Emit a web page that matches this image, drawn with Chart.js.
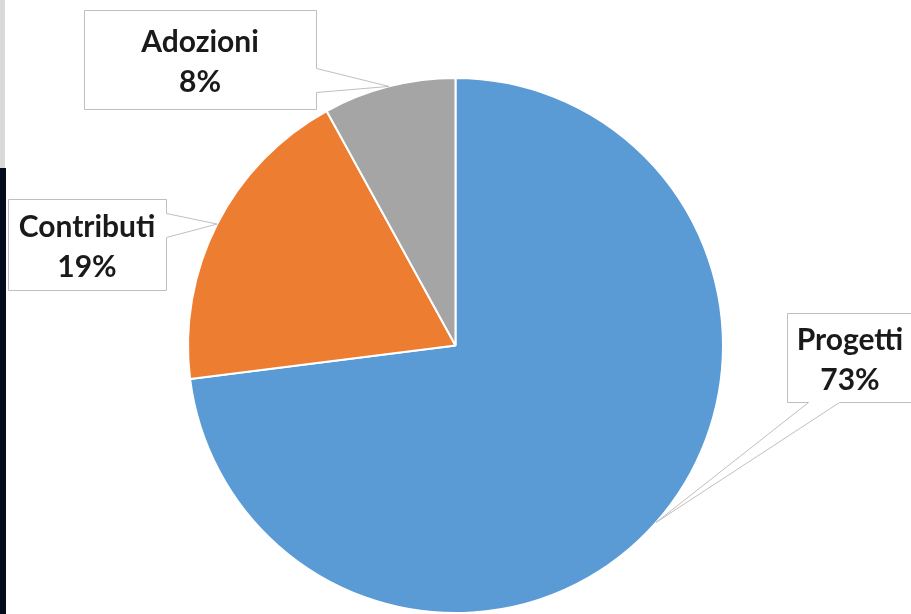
<!DOCTYPE html>
<html>
<head>
<meta charset="utf-8">
<script src="https://cdn.jsdelivr.net/npm/chart.js@4/dist/chart.umd.min.js"></script>
<style>
  html, body { margin: 0; padding: 0; background: #fff; }
  #wrap { position: relative; width: 911px; height: 614px; }
</style>
</head>
<body>
<div id="wrap"><canvas id="graficoTorta"></canvas></div>
<script>
// dati del grafico
const categorie = ['Progetti', 'Contributi', 'Adozioni'];
const percentuali = [73, 19, 8];
const colori = ['#5b9bd5', '#ed7d31', '#a5a5a5'];

// posizione dei riquadri (callout stile Excel), in pixel
const riquadri = [
    { x: 787, y: 313, w: 126, h: 89, lato: 'bottom', a: 808, b: 839 },
    { x: 8, y: 199, w: 158, h: 91, lato: 'right', a: 213, b: 237 },
    { x: 84, y: 10, w: 232, h: 99, lato: 'right', a: 68, b: 92 }
];

const bordiSlide = {
    id: 'bordiSlide',
    beforeDraw(chart) {
        const ctx = chart.ctx;
        ctx.save();
        ctx.fillStyle = '#d9d9d9';
        ctx.fillRect(0, 0, 5, 168);
        ctx.fillStyle = '#040b1c';
        ctx.fillRect(0, 168, 6, chart.height - 168);
        ctx.restore();
    }
};

const callout = {
    id: 'callout',
    afterDatasetsDraw(chart) {
        const ctx = chart.ctx;
        const meta = chart.getDatasetMeta(0);
        meta.data.forEach(function (arc, i) {
            const r = riquadri[i];
            const mid = (arc.startAngle + arc.endAngle) / 2;
            const tx = arc.x + Math.cos(mid) * arc.outerRadius;
            const ty = arc.y + Math.sin(mid) * arc.outerRadius;
            const x0 = r.x + 0.5, y0 = r.y + 0.5, x1 = r.x + r.w + 0.5, y1 = r.y + r.h + 0.5;

            ctx.save();
            ctx.beginPath();
            ctx.moveTo(x0, y0);
            ctx.lineTo(x1, y0);
            if (r.lato === 'right') {
                ctx.lineTo(x1, r.a + 0.5);
                ctx.lineTo(tx, ty);
                ctx.lineTo(x1, r.b + 0.5);
            }
            ctx.lineTo(x1, y1);
            if (r.lato === 'bottom') {
                ctx.lineTo(r.b + 0.5, y1);
                ctx.lineTo(tx, ty);
                ctx.lineTo(r.a + 0.5, y1);
            }
            ctx.lineTo(x0, y1);
            ctx.closePath();
            ctx.fillStyle = '#ffffff';
            ctx.fill();
            ctx.strokeStyle = '#bfbfbf';
            ctx.lineWidth = 1;
            ctx.stroke();

            const cx = r.x + r.w / 2;
            const cy = r.y + r.h / 2;
            ctx.fillStyle = '#1a1a1a';
            ctx.font = 'bold 30px Lato';
            ctx.textAlign = 'center';
            ctx.textBaseline = 'middle';
            ctx.fillText(categorie[i], cx, cy - 17);
            ctx.fillText(percentuali[i] + '%', cx, cy + 23);
            ctx.restore();
        });
    }
};

new Chart(document.getElementById('graficoTorta'), {
    type: 'pie',
    data: {
        labels: categorie,
        datasets: [{
            data: percentuali,
            backgroundColor: colori,
            borderColor: '#ffffff',
            borderWidth: 2,
            hoverOffset: 0
        }]
    },
    options: {
        responsive: true,
        maintainAspectRatio: false,
        animation: false,
        layout: { padding: { top: 77, bottom: 0, left: 187, right: 187 } },
        plugins: {
            legend: { display: false },
            tooltip: { enabled: false }
        }
    },
    plugins: [bordiSlide, callout]
});
</script>
</body>
</html>
